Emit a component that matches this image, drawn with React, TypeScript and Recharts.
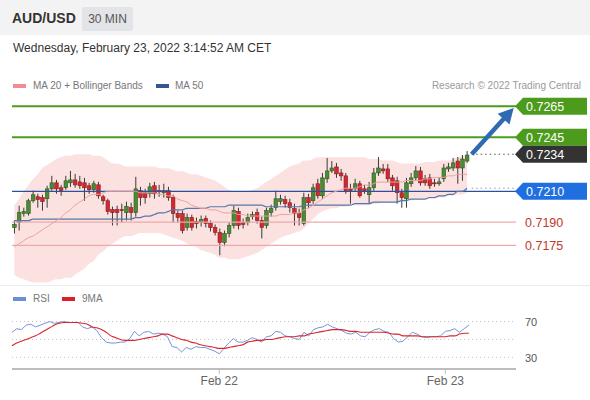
import React from 'react';
import { ComposedChart, Bar, Line, Area, XAxis, YAxis, ReferenceLine } from 'recharts';

const opens = [
  0.71866, 0.71898, 0.71956, 0.71956, 0.72039, 0.72065, 0.72059, 0.72052, 0.72116, 0.72155,
  0.72123, 0.72123, 0.72155, 0.72174, 0.72161, 0.72155, 0.72136, 0.72110, 0.72142, 0.72065,
  0.72039, 0.71981, 0.71981, 0.71981, 0.71962, 0.71994, 0.71962, 0.72104, 0.72091, 0.72084,
  0.72136, 0.72104, 0.72091, 0.72104, 0.72059, 0.71956, 0.71956, 0.71866, 0.71930, 0.71904,
  0.71898, 0.71924, 0.71891, 0.71866, 0.71834, 0.71769, 0.71827, 0.71879, 0.71969, 0.71898,
  0.71898, 0.71936, 0.71962, 0.71911, 0.71879, 0.71962, 0.71994, 0.72033, 0.72046, 0.72026,
  0.71988, 0.71956, 0.71891, 0.72059, 0.72039, 0.72149, 0.72071, 0.72181, 0.72232, 0.72258,
  0.72219, 0.72200, 0.72116, 0.72116, 0.72149, 0.72116, 0.72078, 0.72123, 0.72219, 0.72245,
  0.72245, 0.72187, 0.72168, 0.72091, 0.72052, 0.72149, 0.72187, 0.72232, 0.72181, 0.72187,
  0.72155, 0.72149, 0.72181, 0.72245, 0.72251, 0.72296, 0.72251, 0.72296,
];
const highs = [
  0.71911, 0.72007, 0.71994, 0.72052, 0.72104, 0.72084, 0.72078, 0.72136, 0.72200, 0.72174,
  0.72142, 0.72200, 0.72232, 0.72213, 0.72200, 0.72187, 0.72155, 0.72168, 0.72161, 0.72078,
  0.72052, 0.72001, 0.72007, 0.72020, 0.72033, 0.72026, 0.72194, 0.72129, 0.72116, 0.72155,
  0.72161, 0.72142, 0.72149, 0.72129, 0.72078, 0.71975, 0.71975, 0.71956, 0.71949, 0.71930,
  0.71943, 0.71943, 0.71911, 0.71885, 0.71859, 0.71846, 0.71898, 0.72007, 0.71994, 0.71924,
  0.71956, 0.71969, 0.71988, 0.71936, 0.71994, 0.72014, 0.72104, 0.72078, 0.72071, 0.72052,
  0.72020, 0.71988, 0.72091, 0.72084, 0.72149, 0.72181, 0.72219, 0.72316, 0.72296, 0.72284,
  0.72245, 0.72219, 0.72149, 0.72181, 0.72168, 0.72142, 0.72161, 0.72251, 0.72322, 0.72277,
  0.72277, 0.72206, 0.72194, 0.72116, 0.72187, 0.72219, 0.72264, 0.72258, 0.72206, 0.72213,
  0.72181, 0.72187, 0.72277, 0.72284, 0.72316, 0.72322, 0.72335, 0.72361,
];
const lows = [
  0.71827, 0.71846, 0.71936, 0.71943, 0.72026, 0.71994, 0.71975, 0.71994, 0.72104, 0.72084,
  0.72071, 0.72110, 0.72129, 0.72123, 0.72116, 0.72039, 0.72084, 0.72091, 0.72052, 0.72014,
  0.71949, 0.71879, 0.71879, 0.71898, 0.71911, 0.71911, 0.71936, 0.72007, 0.72020, 0.72059,
  0.72052, 0.72065, 0.72059, 0.72039, 0.71898, 0.71898, 0.71827, 0.71846, 0.71846, 0.71859,
  0.71872, 0.71866, 0.71840, 0.71814, 0.71686, 0.71744, 0.71802, 0.71859, 0.71853, 0.71859,
  0.71879, 0.71917, 0.71891, 0.71795, 0.71859, 0.71936, 0.71975, 0.72014, 0.71994, 0.71962,
  0.71879, 0.71879, 0.71879, 0.71994, 0.72020, 0.72052, 0.72052, 0.72155, 0.72219, 0.72187,
  0.72168, 0.72084, 0.72020, 0.72097, 0.72059, 0.72084, 0.72020, 0.72104, 0.72200, 0.72213,
  0.72161, 0.72104, 0.72020, 0.71994, 0.71994, 0.72129, 0.72168, 0.72136, 0.72136, 0.72116,
  0.72129, 0.72136, 0.72161, 0.72226, 0.72232, 0.72149, 0.72168, 0.72284,
];
const closes = [
  0.71885, 0.71962, 0.71969, 0.72039, 0.72078, 0.72046, 0.72033, 0.72116, 0.72155, 0.72116,
  0.72104, 0.72168, 0.72174, 0.72142, 0.72136, 0.72123, 0.72110, 0.72149, 0.72071, 0.72039,
  0.71969, 0.71962, 0.71962, 0.71975, 0.72001, 0.71962, 0.72116, 0.72059, 0.72059, 0.72129,
  0.72084, 0.72097, 0.72104, 0.72059, 0.71956, 0.71930, 0.71846, 0.71930, 0.71866, 0.71891,
  0.71917, 0.71891, 0.71866, 0.71834, 0.71769, 0.71827, 0.71879, 0.71975, 0.71879, 0.71885,
  0.71930, 0.71949, 0.71911, 0.71866, 0.71975, 0.71988, 0.72052, 0.72052, 0.72020, 0.71994,
  0.71956, 0.71930, 0.72059, 0.72026, 0.72123, 0.72071, 0.72187, 0.72232, 0.72251, 0.72213,
  0.72200, 0.72104, 0.72104, 0.72149, 0.72071, 0.72104, 0.72123, 0.72219, 0.72251, 0.72232,
  0.72181, 0.72136, 0.72091, 0.72059, 0.72155, 0.72187, 0.72232, 0.72155, 0.72155, 0.72136,
  0.72149, 0.72161, 0.72251, 0.72258, 0.72284, 0.72251, 0.72309, 0.72335,
];
const ma20 = [
  0.7174, 0.7176, 0.7178, 0.7180, 0.7181, 0.7183, 0.7185, 0.7187, 0.7189, 0.7191,
  0.7193, 0.7196, 0.7198, 0.7201, 0.7203, 0.7205, 0.7207, 0.7208, 0.7208, 0.7209,
  0.7210, 0.7210, 0.7210, 0.7210, 0.7210, 0.7210, 0.7210, 0.7209, 0.7209, 0.7209,
  0.7209, 0.7208, 0.7208, 0.7207, 0.7207, 0.7205, 0.7204, 0.7203, 0.7201, 0.7200,
  0.7199, 0.7199, 0.7198, 0.7198, 0.7197, 0.7196, 0.7196, 0.7196, 0.7195, 0.7195,
  0.7194, 0.7194, 0.7194, 0.7194, 0.7194, 0.7194, 0.7194, 0.7195, 0.7195, 0.7195,
  0.7196, 0.7196, 0.7198, 0.7199, 0.7201, 0.7203, 0.7205, 0.7207, 0.7209, 0.7210,
  0.7211, 0.7212, 0.7212, 0.7212, 0.7213, 0.7214, 0.7214, 0.7215, 0.7216, 0.7216,
  0.7216, 0.7216, 0.7216, 0.7216, 0.7217, 0.7217, 0.7217, 0.7217, 0.7218, 0.7218,
  0.7219, 0.7219, 0.7219, 0.7220, 0.7220, 0.7221, 0.7221, 0.7221,
];
const bbUpper = [
  0.7201, 0.7205, 0.7210, 0.7214, 0.7218, 0.7221, 0.7225, 0.7227, 0.7229, 0.7231,
  0.7232, 0.7233, 0.7233, 0.7234, 0.7234, 0.7234, 0.7234, 0.7233, 0.7233, 0.7232,
  0.7230, 0.7228, 0.7228, 0.7227, 0.7226, 0.7226, 0.7226, 0.7226, 0.7226, 0.7226,
  0.7226, 0.7225, 0.7225, 0.7225, 0.7224, 0.7223, 0.7223, 0.7222, 0.7221, 0.7221,
  0.7220, 0.7219, 0.7218, 0.7217, 0.7215, 0.7213, 0.7211, 0.7210, 0.7210, 0.7210,
  0.7210, 0.7211, 0.7212, 0.7214, 0.7216, 0.7218, 0.7220, 0.7222, 0.7224, 0.7226,
  0.7227, 0.7228, 0.7230, 0.7230, 0.7231, 0.7232, 0.7232, 0.7232, 0.7232, 0.7232,
  0.7232, 0.7232, 0.7232, 0.7232, 0.7232, 0.7232, 0.7231, 0.7231, 0.7231, 0.7230,
  0.7230, 0.7230, 0.7229, 0.7228, 0.7228, 0.7228, 0.7228, 0.7228, 0.7229, 0.7229,
  0.7229, 0.7230, 0.7230, 0.7230, 0.7231, 0.7232, 0.7233, 0.7233,
];
const bbLower = [
  0.7156, 0.7154, 0.7153, 0.7152, 0.7151, 0.7151, 0.7151, 0.7151, 0.7152, 0.7153,
  0.7153, 0.7154, 0.7154, 0.7156, 0.7158, 0.7160, 0.7163, 0.7165, 0.7169, 0.7171,
  0.7174, 0.7176, 0.7178, 0.7180, 0.7181, 0.7181, 0.7182, 0.7183, 0.7183, 0.7183,
  0.7183, 0.7183, 0.7182, 0.7181, 0.7180, 0.7179, 0.7178, 0.7176, 0.7175, 0.7174,
  0.7172, 0.7171, 0.7170, 0.7169, 0.7167, 0.7167, 0.7166, 0.7166, 0.7166, 0.7167,
  0.7168, 0.7169, 0.7170, 0.7172, 0.7174, 0.7176, 0.7178, 0.7180, 0.7181, 0.7182,
  0.7183, 0.7184, 0.7186, 0.7189, 0.7192, 0.7195, 0.7197, 0.7198, 0.7199, 0.7199,
  0.7200, 0.7200, 0.7201, 0.7201, 0.7201, 0.7201, 0.7201, 0.7202, 0.7202, 0.7203,
  0.7203, 0.7203, 0.7203, 0.7204, 0.7204, 0.7204, 0.7205, 0.7205, 0.7205, 0.7205,
  0.7205, 0.7206, 0.7206, 0.7207, 0.7207, 0.7208, 0.7208, 0.7209,
];
const ma50 = [
  0.7191, 0.7191, 0.7191, 0.7191, 0.7192, 0.7192, 0.7192, 0.7192, 0.7192, 0.7192,
  0.7192, 0.7192, 0.7192, 0.7192, 0.7192, 0.7192, 0.7192, 0.7192, 0.7192, 0.7192,
  0.7192, 0.7192, 0.7192, 0.7192, 0.7192, 0.7192, 0.7193, 0.7193, 0.7194, 0.7194,
  0.7195, 0.7196, 0.7196, 0.7197, 0.7198, 0.7198, 0.7198, 0.7199, 0.7199, 0.7199,
  0.7199, 0.7199, 0.7200, 0.7200, 0.7200, 0.7200, 0.7201, 0.7201, 0.7201, 0.7201,
  0.7201, 0.7201, 0.7201, 0.7201, 0.7200, 0.7200, 0.7200, 0.7200, 0.7200, 0.7200,
  0.7200, 0.7200, 0.7201, 0.7201, 0.7201, 0.7201, 0.7201, 0.7201, 0.7201, 0.7201,
  0.7201, 0.7201, 0.7201, 0.7202, 0.7202, 0.7202, 0.7202, 0.7203, 0.7203, 0.7203,
  0.7203, 0.7203, 0.7203, 0.7204, 0.7204, 0.7205, 0.7205, 0.7205, 0.7205, 0.7206,
  0.7206, 0.7207, 0.7207, 0.7208, 0.7208, 0.7210, 0.7210, 0.7212,
];
const rsiValues = [
  58, 62, 61, 66, 67, 64, 66, 68, 70, 68,
  69, 70, 69, 69, 69, 64, 62, 64, 60, 52,
  47, 46, 46, 47, 47, 51, 59, 54, 58, 59,
  56, 57, 56, 53, 42, 41, 36, 41, 39, 42,
  41, 41, 39, 37, 34, 40, 46, 51, 47, 47,
  49, 52, 50, 47, 53, 54, 59, 58, 54, 53,
  51, 50, 58, 54, 61, 63, 64, 67, 64, 62,
  60, 57, 56, 58, 54, 53, 58, 61, 62, 59,
  58, 51, 47, 48, 53, 58, 56, 53, 52, 53,
  53, 54, 59, 60, 62, 58, 62, 66,
];
const rsiMa9 = [
  43, 46, 48, 50, 52, 54, 57, 60, 63, 66,
  68, 69, 69, 69, 69, 68, 67, 64, 63, 61,
  58, 54, 52, 50, 49, 49, 49, 50, 51, 52,
  53, 54, 56, 56, 54, 52, 50, 49, 47, 46,
  44, 43, 42, 41, 40, 40, 41, 42, 43, 44,
  47, 48, 49, 49, 50, 50, 51, 52, 53, 53,
  53, 54, 54, 56, 57, 58, 59, 60, 61, 61,
  61, 60, 59, 59, 58, 58, 58, 58, 58, 58,
  57, 56, 56, 54, 54, 54, 54, 53, 53, 53,
  53, 53, 53, 54, 54, 56, 57, 57,
];

const resistance2 = 0.7265;
const resistance1 = 0.7245;
const lastPrice = 0.7234;
const pivot = 0.721;
const support1 = 0.719;
const support2 = 0.7175;
const ma50Last = 0.7212;
const arrowTarget = 0.7264;

const PAD = 10;
const TOTAL = opens.length + PAD;

// 30-minute candle times, starting Feb 21 02:00 CET
const categories: string[] = [];
for (let i = 0; i < TOTAL; i++) {
  const m = 120 + i * 30;
  const day = 21 + Math.floor(m / 1440);
  const hh = Math.floor((m % 1440) / 60);
  const mm = m % 60;
  categories.push(`Feb ${day} ${String(hh).padStart(2, '0')}:${String(mm).padStart(2, '0')}`);
}
const axisTicks = [categories[44], categories[92]];

const data = categories.map((t, i) => {
  if (i >= opens.length) return { t };
  return {
    t,
    o: opens[i],
    h: highs[i],
    l: lows[i],
    c: closes[i],
    hl: [lows[i], highs[i]],
    bb: [bbLower[i], bbUpper[i]],
    ma20: ma20[i],
    ma50: ma50[i],
    rsi: rsiValues[i],
    ma9: rsiMa9[i],
  };
});

const lastIdx = opens.length - 1;
const FONT = "'Liberation Sans', Arial, sans-serif";

const Candle = (props: any) => {
  const { x, y, width, height, payload } = props;
  if (!payload || payload.o == null) return null;
  const { o, c, h, l } = payload;
  const cx = x + width / 2;
  const py = (v: number) => (h === l ? y : y + ((h - v) / (h - l)) * height);
  const yo = py(o);
  const yc = py(c);
  const up = c >= o;
  const top = Math.min(yo, yc);
  const bh = Math.max(1, Math.abs(yo - yc));
  const bw = 3.6;
  return (
    <g>
      <line x1={cx} x2={cx} y1={y} y2={y + height} stroke="#3b3b3b" strokeWidth={1} />
      <rect
        x={cx - bw / 2}
        y={top}
        width={bw}
        height={bh}
        fill={up ? '#4c8a34' : '#cf2a2f'}
        stroke={up ? '#2e5a22' : '#8f1c1f'}
        strokeWidth={0.6}
      />
    </g>
  );
};

const TagLabel = ({ viewBox, text, bg }: any) => {
  if (!viewBox) return null;
  const y = viewBox.y;
  const x0 = 515;
  const hh = 8.5;
  return (
    <g>
      <polygon
        points={`${x0},${y} ${x0 + 8},${y - hh} ${x0 + 72},${y - hh} ${x0 + 72},${y + hh} ${x0 + 8},${y + hh}`}
        fill={bg}
      />
      <text x={x0 + 11} y={y + 4.5} fill="#ffffff" fontSize={12.5} fontFamily={FONT}>
        {text}
      </text>
    </g>
  );
};

const PlainLabel = ({ viewBox, text, color, size }: any) => {
  if (!viewBox) return null;
  return (
    <text x={525} y={viewBox.y + 4.5} fill={color} fontSize={size || 12.5} fontFamily={FONT}>
      {text}
    </text>
  );
};

const ArrowShape = (p: any) => {
  const { x1, y1, x2, y2 } = p;
  if ([x1, y1, x2, y2].some((v) => typeof v !== 'number' || isNaN(v))) return null;
  const dx = x2 - x1;
  const dy = y2 - y1;
  const len = Math.hypot(dx, dy) || 1;
  const ux = dx / len;
  const uy = dy / len;
  const hl = 15;
  const hw = 8;
  const bx = x2 - ux * hl;
  const by = y2 - uy * hl;
  const px = -uy;
  const py = ux;
  return (
    <g>
      <line x1={x1} y1={y1} x2={bx + ux * 2} y2={by + uy * 2} stroke="#2f6bb2" strokeWidth={4.5} />
      <polygon
        points={`${x2},${y2} ${bx + px * hw},${by + py * hw} ${bx - px * hw},${by - py * hw}`}
        fill="#2f6bb2"
      />
    </g>
  );
};

const abs = (l: number, t: number, extra: any = {}) => ({ position: 'absolute' as const, left: l, top: t, ...extra });

export default function App() {
  return (
    <div
      style={{
        position: 'absolute',
        left: 0,
        top: 0,
        width: 590,
        height: 400,
        background: '#ffffff',
        fontFamily: FONT,
        overflow: 'hidden',
      }}
    >
      {/* header */}
      <div style={abs(0, 0, { width: 590, height: 35, background: '#f3f3f3' })} />
      <div style={abs(12, 10, { fontSize: 14, fontWeight: 700, color: '#333', lineHeight: '17px' })}>AUD/USD</div>
      <div
        style={abs(82, 7, {
          width: 51,
          height: 24,
          background: '#e2e4e7',
          borderRadius: 2,
          fontSize: 12,
          color: '#555',
          lineHeight: '24px',
          textAlign: 'center',
        })}
      >
        30 MIN
      </div>
      <div style={abs(13, 41, { fontSize: 12, color: '#333', lineHeight: '15px' })}>
        Wednesday, February 23, 2022 3:14:52 AM CET
      </div>

      {/* main legend */}
      <div style={abs(13, 84, { width: 13, height: 4, background: '#ef8d93' })} />
      <div style={abs(33, 80, { fontSize: 10, color: '#777', lineHeight: '12px' })}>MA 20 + Bollinger Bands</div>
      <div style={abs(156, 84, { width: 13, height: 4, background: '#35578f' })} />
      <div style={abs(175, 80, { fontSize: 10, color: '#777', lineHeight: '12px' })}>MA 50</div>
      <div style={abs(400, 80, { width: 181, textAlign: 'right', fontSize: 10, color: '#9a9a9a', lineHeight: '12px' })}>
        Research © 2022 Trading Central
      </div>

      {/* main price chart */}
      <div style={abs(0, 0)}>
        <ComposedChart width={590} height={290} data={data} margin={{ top: 94, right: 74, bottom: 6, left: 12 }}>
          <XAxis dataKey="t" hide />
          <YAxis hide domain={[0.715, 0.7273]} allowDataOverflow type="number" />
          <Area
            dataKey="bb"
            type="monotone"
            stroke="none"
            fill="#fcdcdc"
            fillOpacity={0.85}
            isAnimationActive={false}
            activeDot={false}
          />
          <ReferenceLine y={support2} stroke="#eeaaaa" strokeWidth={1.2} label={(p: any) => <PlainLabel viewBox={p.viewBox} text="0.7175" color="#c0392b" />} />
          <ReferenceLine y={support1} stroke="#eeaaaa" strokeWidth={1.2} label={(p: any) => <PlainLabel viewBox={p.viewBox} text="0.7190" color="#c0392b" />} />
          <ReferenceLine y={pivot} stroke="#2c4f9e" strokeWidth={1.3} label={(p: any) => <TagLabel viewBox={p.viewBox} text="0.7210" bg="#1f6fe0" />} />
          <ReferenceLine y={resistance1} stroke="#4d9b1c" strokeWidth={2} label={(p: any) => <TagLabel viewBox={p.viewBox} text="0.7245" bg="#4d9b1c" />} />
          <ReferenceLine y={resistance2} stroke="#4d9b1c" strokeWidth={2} label={(p: any) => <TagLabel viewBox={p.viewBox} text="0.7265" bg="#4d9b1c" />} />
          <ReferenceLine
            segment={[
              { x: categories[lastIdx + 1], y: ma50Last },
              { x: categories[TOTAL - 1], y: ma50Last },
            ]}
            stroke="#8a9bb8"
            strokeDasharray="1.5 3"
          />
          <ReferenceLine
            segment={[
              { x: categories[lastIdx + 1], y: lastPrice },
              { x: categories[TOTAL - 1], y: lastPrice },
            ]}
            stroke="#555"
            strokeDasharray="1.5 3"
            label={(p: any) => <TagLabel viewBox={p.viewBox} text="0.7234" bg="#333333" />}
          />
          <Line dataKey="ma50" type="monotone" stroke="#5777ab" strokeWidth={1.2} dot={false} isAnimationActive={false} activeDot={false} />
          <Line dataKey="ma20" type="monotone" stroke="#eba1a1" strokeWidth={1} dot={false} isAnimationActive={false} activeDot={false} />
          <Bar dataKey="hl" shape={Candle} isAnimationActive={false} />
          <ReferenceLine
            segment={[
              { x: categories[lastIdx + 1], y: lastPrice },
              { x: categories[TOTAL - 1], y: arrowTarget },
            ]}
            shape={ArrowShape}
          />
        </ComposedChart>
      </div>

      <div style={abs(0, 285, { width: 590, height: 1, background: '#ececec' })} />

      {/* RSI legend */}
      <div style={abs(13, 297, { width: 13, height: 4, background: '#6b8fd6' })} />
      <div style={abs(33, 293, { fontSize: 10, color: '#777', lineHeight: '12px' })}>RSI</div>
      <div style={abs(62, 297, { width: 13, height: 4, background: '#dd1f26' })} />
      <div style={abs(82, 293, { fontSize: 10, color: '#777', lineHeight: '12px' })}>9MA</div>

      {/* RSI chart */}
      <div style={abs(0, 290)}>
        <ComposedChart width={590} height={110} data={data} margin={{ top: 19, right: 74, bottom: 1, left: 12 }}>
          <XAxis
            dataKey="t"
            ticks={axisTicks}
            interval={0}
            tickFormatter={(v: string) => v.split(' ').slice(0, 2).join(' ')}
            axisLine={{ stroke: '#bdbdbd', strokeWidth: 2 }}
            tickLine={{ stroke: '#bdbdbd' }}
            tickSize={5}
            tick={{ fontSize: 12, fill: '#666', fontFamily: FONT }}
            height={30}
          />
          <YAxis hide domain={[17, 84]} type="number" allowDataOverflow />
          <ReferenceLine y={70} stroke="#c4c4c4" strokeDasharray="1 3" label={(p: any) => <PlainLabel viewBox={p.viewBox} text="70" color="#555" size={11} />} />
          <ReferenceLine y={50} stroke="#c4c4c4" strokeDasharray="1 3" />
          <ReferenceLine y={30} stroke="#c4c4c4" strokeDasharray="1 3" label={(p: any) => <PlainLabel viewBox={p.viewBox} text="30" color="#555" size={11} />} />
          <Line dataKey="rsi" type="linear" stroke="#7394d8" strokeWidth={1} dot={false} isAnimationActive={false} activeDot={false} />
          <Line dataKey="ma9" type="monotone" stroke="#d9262c" strokeWidth={1.1} dot={false} isAnimationActive={false} activeDot={false} />
        </ComposedChart>
      </div>
    </div>
  );
}
